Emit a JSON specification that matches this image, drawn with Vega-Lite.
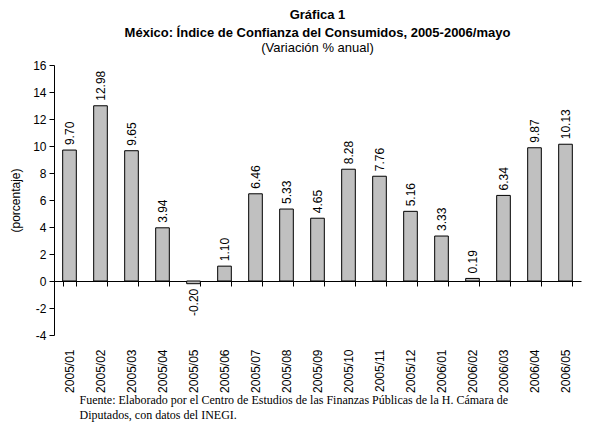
{
  "$schema": "https://vega.github.io/schema/vega-lite/v6.json",
  "autosize": "none",
  "padding": {"left": 54, "top": 65, "right": 30, "bottom": 89},
  "width": 527,
  "height": 270,
  "background": "white",
  "config": {
    "view": {"stroke": null},
    "font": "Liberation Sans",
    "locale": {"number": {"decimal": ".", "thousands": ",", "grouping": [3], "currency": ["$", ""], "minus": "-"}}
  },
  "title": {
    "text": ["Gráfica 1", "México: Índice de Confianza del Consumidos, 2005-2006/mayo"],
    "subtitle": "(Variación % anual)",
    "font": "Liberation Sans",
    "fontSize": 13,
    "fontWeight": "bold",
    "subtitleFont": "Liberation Sans",
    "subtitleFontSize": 13,
    "subtitleColor": "black",
    "subtitlePadding": 2,
    "lineHeight": 18,
    "subtitleLineHeight": 15,
    "color": "black",
    "anchor": "middle",
    "offset": 4
  },
  "data": {
    "values": [
      {"mes": "2005/01", "v": 9.70},
      {"mes": "2005/02", "v": 12.98},
      {"mes": "2005/03", "v": 9.65},
      {"mes": "2005/04", "v": 3.94},
      {"mes": "2005/05", "v": -0.20},
      {"mes": "2005/06", "v": 1.10},
      {"mes": "2005/07", "v": 6.46},
      {"mes": "2005/08", "v": 5.33},
      {"mes": "2005/09", "v": 4.65},
      {"mes": "2005/10", "v": 8.28},
      {"mes": "2005/11", "v": 7.76},
      {"mes": "2005/12", "v": 5.16},
      {"mes": "2006/01", "v": 3.33},
      {"mes": "2006/02", "v": 0.19},
      {"mes": "2006/03", "v": 6.34},
      {"mes": "2006/04", "v": 9.87},
      {"mes": "2006/05", "v": 10.13}
    ]
  },
  "encoding": {
    "x": {
      "field": "mes", "type": "nominal", "sort": null,
      "scale": {"paddingInner": 0.56, "paddingOuter": 0.28},
      "axis": {
        "title": ["Fuente: Elaborado por el Centro de Estudios de las Finanzas Públicas de la H. Cámara de", "Diputados, con datos del INEGI."],
        "titleFont": "Liberation Serif",
        "titleFontSize": 12,
        "titleFontWeight": "normal",
        "titleColor": "black",
        "titleAnchor": "start",
        "titleAlign": "left",
        "titleBaseline": "top",
        "titleX": 25,
        "titleY": 113,
        "titleLineHeight": 15,
        "offset": -54,
        "domainColor": "black",
        "tickColor": "black",
        "tickSize": 5,
        "tickBand": "extent",
        "labelAngle": -90,
        "labelAlign": "right",
        "labelBaseline": "middle",
        "labelPadding": 63,
        "labelFontSize": 12,
        "labelColor": "black",
        "grid": false
      }
    },
    "y": {
      "field": "v", "type": "quantitative",
      "scale": {"domain": [-4, 16], "nice": false},
      "axis": {
        "title": "(porcentaje)",
        "titleFont": "Liberation Sans",
        "titleFontSize": 12,
        "titleFontWeight": "normal",
        "titleColor": "black",
        "titlePadding": 10,
        "values": [-4, -2, 0, 2, 4, 6, 8, 10, 12, 14, 16],
        "format": "d",
        "grid": false,
        "domainColor": "black",
        "tickColor": "black",
        "tickSize": 5,
        "labelFontSize": 12,
        "labelColor": "black",
        "labelPadding": 3
      }
    }
  },
  "layer": [
    {
      "mark": {"type": "bar", "fill": "#c0c0c0", "stroke": "black", "strokeWidth": 1}
    },
    {
      "transform": [{"filter": "datum.v >= 0"}],
      "mark": {"type": "text", "angle": 270, "align": "left", "baseline": "middle", "dx": 5, "fontSize": 12, "color": "black"},
      "encoding": {"text": {"field": "v", "type": "quantitative", "format": ".2f"}}
    },
    {
      "transform": [{"filter": "datum.v < 0"}],
      "mark": {"type": "text", "angle": 270, "align": "right", "baseline": "middle", "dx": -5, "fontSize": 12, "color": "black"},
      "encoding": {"text": {"field": "v", "type": "quantitative", "format": ".2f"}}
    }
  ]
}
